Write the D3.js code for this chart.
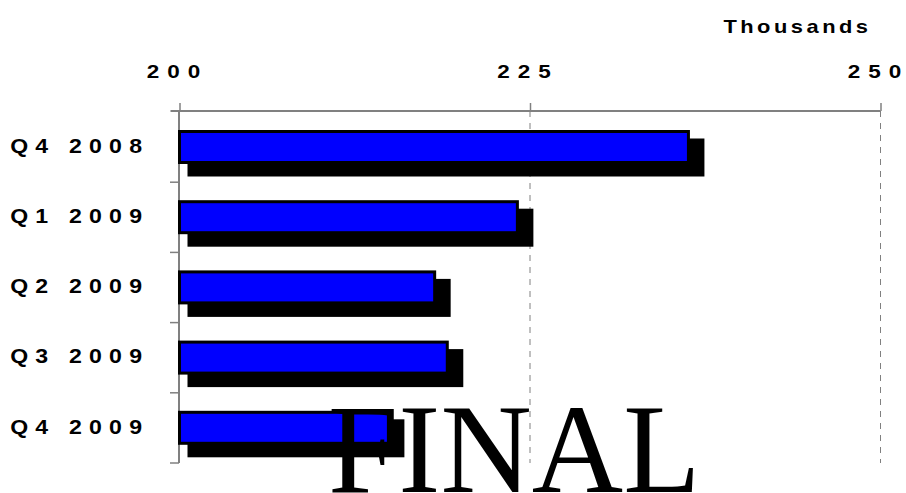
<!DOCTYPE html>
<html>
<head>
<meta charset="utf-8">
<script src="https://cdn.jsdelivr.net/npm/d3@7/dist/d3.min.js"></script>
<style>
  html, body { margin: 0; padding: 0; background: #fff; }
  svg { display: block; }
</style>
</head>
<body>
<svg id="chart" width="906" height="493"></svg>
<script>
// Quarterly values, in thousands
const categories = ["Q4 2008", "Q1 2009", "Q2 2009", "Q3 2009", "Q4 2009"];
const values = [236.3, 224.1, 218.2, 219.1, 214.9];
const tickValues = [200, 225, 250];
const unitLabel = "Thousands";
const stamp = "FINAL";

const svg = d3.select("#chart");

const x = d3.scaleLinear().domain([200, 250]).range([179.5, 880.5]);
const y = d3.scaleBand().domain(categories).range([112, 463]).paddingInner(0).paddingOuter(0);

const axisColor = "#808080";
const labelFont = "'Liberation Sans', Arial, sans-serif";

// Writes a string as spaced-out, horizontally widened characters,
// with no trailing gap after the last one
function spaced(sel, str, gap, sx) {
  sel.selectAll("tspan")
    .data(String(str).split(""))
    .join("tspan")
    .attr("dx", (c, i) => (i === 0 ? 0 : gap / sx))
    .text(c => c);
}
function wideText(parent, px, py, str, opts) {
  const t = parent.append("text")
    .attr("transform", `translate(${px},${py}) scale(${opts.sx},1)`)
    .attr("text-anchor", opts.anchor)
    .attr("font-family", labelFont)
    .attr("font-weight", "bold")
    .attr("font-size", opts.size)
    .attr("fill", "#000");
  if (opts.central) t.attr("dominant-baseline", "central");
  spaced(t, str, opts.gap, opts.sx);
  return t;
}

// dashed gridlines for ticks right of the baseline
svg.append("g")
  .selectAll("line")
  .data(tickValues.slice(1))
  .join("line")
  .attr("x1", d => x(d)).attr("x2", d => x(d))
  .attr("y1", 111).attr("y2", 463)
  .attr("stroke", axisColor)
  .attr("stroke-width", 1)
  .attr("stroke-dasharray", "6,6");

// top value axis
const topAxis = d3.axisTop(x).tickValues(tickValues).tickSize(8).tickFormat("");
const gTop = svg.append("g").attr("transform", "translate(0,111)").call(topAxis);
gTop.select(".domain").attr("stroke", axisColor).attr("stroke-width", 2)
  .attr("d", `M${x(200) - 9},0H${x(250)}`);
gTop.selectAll(".tick line").attr("stroke", axisColor).attr("stroke-width", 1.5);

// tick labels
const gTickLabels = svg.append("g");
tickValues.forEach(v => {
  wideText(gTickLabels, x(v) - 6, 77.5, v, { sx: 1.25, size: 18, gap: 8, anchor: "middle" });
});

wideText(svg, 868, 33, unitLabel, { sx: 1.25, size: 17.5, gap: 3.5, anchor: "end" });

// left category axis
const leftAxis = d3.axisLeft(y).tickSize(0).tickFormat("");
const gLeft = svg.append("g").attr("transform", `translate(${x(200) - 0.5},0)`).call(leftAxis);
gLeft.select(".domain").attr("stroke", axisColor).attr("stroke-width", 2)
  .attr("d", "M0,111V463");
gLeft.selectAll(".tick").remove();
// tick marks between categories
gLeft.selectAll("line.sep")
  .data(categories.map(c => y(c) + y.bandwidth()))
  .join("line")
  .attr("class", "sep")
  .attr("x1", -9).attr("x2", 0)
  .attr("y1", d => d).attr("y2", d => d)
  .attr("stroke", axisColor)
  .attr("stroke-width", 1.5);

// category labels
const gCatLabels = svg.append("g");
categories.forEach(c => {
  wideText(gCatLabels, 142, y(c) + y.bandwidth() / 2 - 2, c,
    { sx: 1.1, size: 21, gap: 7.2, anchor: "end", central: true });
});

// bars with offset drop shadow
const barOffset = 19.5;
const barH = 31;
const rows = categories.map((c, i) => ({ c, v: values[i] }));

svg.append("g")
  .selectAll("rect")
  .data(rows)
  .join("rect")
  .attr("x", x(200) + 8)
  .attr("y", d => y(d.c) + barOffset + 7)
  .attr("width", d => x(d.v) - x(200) + 8)
  .attr("height", barH + 7)
  .attr("fill", "#000");

svg.append("g")
  .selectAll("rect")
  .data(rows)
  .join("rect")
  .attr("x", x(200))
  .attr("y", d => y(d.c) + barOffset)
  .attr("width", d => x(d.v) - x(200))
  .attr("height", barH)
  .attr("fill", "#0000ff")
  .attr("stroke", "#000")
  .attr("stroke-width", 3);

// status stamp
svg.append("text")
  .attr("x", 328)
  .attr("y", 492)
  .attr("font-family", "'Liberation Serif', 'Times New Roman', serif")
  .attr("font-size", 126.5)
  .attr("fill", "#000")
  .text(stamp);
</script>
</body>
</html>
